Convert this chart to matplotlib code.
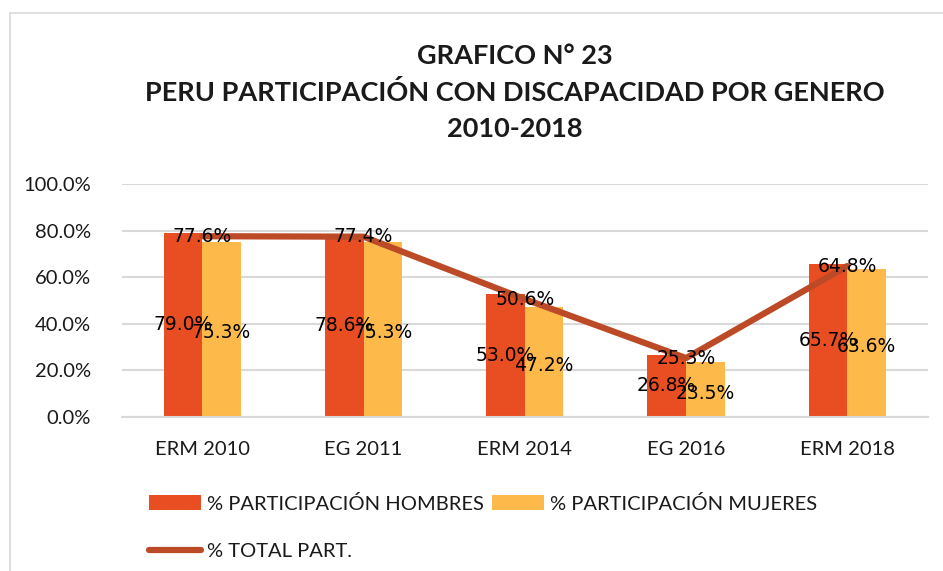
import matplotlib.pyplot as plt
import numpy as np
from matplotlib.lines import Line2D
from matplotlib.ticker import PercentFormatter

categories = ['ERM 2010', 'EG 2011', 'ERM 2014', 'EG 2016', 'ERM 2018']
hombres = [79.0, 78.6, 53.0, 26.8, 65.7]
mujeres = [75.3, 75.3, 47.2, 23.5, 63.6]
total = [77.6, 77.4, 50.6, 25.3, 64.8]

c_h = '#E84E22'
c_m = '#FDB949'
c_t = '#BD4A27'
txt = '#1a1a1a'
font = 'Lato'

fig = plt.figure(figsize=(9.43, 5.71), dpi=100)
ax = fig.add_axes([0.129, 0.2697, 0.855, 0.408])

x = np.arange(len(categories))
w = 0.24
b1 = ax.bar(x - w / 2, hombres, w, color=c_h, label='% PARTICIPACIÓN HOMBRES', zorder=2)
b2 = ax.bar(x + w / 2, mujeres, w, color=c_m, label='% PARTICIPACIÓN MUJERES', zorder=2)
ln, = ax.plot(x, total, color=c_t, lw=4.5, label='% TOTAL PART.', zorder=3, solid_capstyle='round')

# etiquetas de datos (se solapan igual que en el original)
for xi, v in zip(x, hombres):
    ax.text(xi - w / 2, v / 2, f'{v:.1f}%', ha='center', va='center', fontsize=13.5,
            family='DejaVu Sans', color='black', zorder=4)
for xi, v in zip(x, mujeres):
    ax.text(xi + w / 2, v / 2 - 1.5, f'{v:.1f}%', ha='center', va='center', fontsize=13.5,
            family='DejaVu Sans', color='black', zorder=4)
for xi, v in zip(x, total):
    ax.text(xi, v, f'{v:.1f}%', ha='center', va='center', fontsize=13.5,
            family='DejaVu Sans', color='black', zorder=4)

ax.set_xlim(-0.5, len(categories) - 0.5)
ax.set_ylim(0, 100)
ax.set_yticks(np.arange(0, 101, 20))
ax.yaxis.set_major_formatter(PercentFormatter(decimals=1))
ax.set_xticks(x)
ax.set_xticklabels(categories)
ax.grid(axis='y', color='#D9D9D9', lw=1.5, zorder=0)
for s in ['top', 'right', 'left']:
    ax.spines[s].set_visible(False)
ax.spines['bottom'].set_color('#D9D9D9')
ax.spines['bottom'].set_linewidth(1.5)
ax.tick_params(length=0, labelsize=14.5, labelcolor=txt)
ax.tick_params(axis='x', pad=17)
ax.tick_params(axis='y', pad=22)
for lab in ax.get_xticklabels() + ax.get_yticklabels():
    lab.set_family(font)

fig.text(0.546, 0.838, 'GRAFICO N° 23\nPERU PARTICIPACIÓN CON DISCAPACIDAD POR GENERO\n2010-2018',
         ha='center', va='center', fontsize=19.5, fontweight='bold', family=font,
         color=txt, linespacing=1.6)

leg = fig.legend([b1, ln, b2], [b1.get_label(), ln.get_label(), b2.get_label()],
                 ncol=2, loc='upper left', bbox_to_anchor=(0.149, 0.148), frameon=False,
                 prop={'family': font, 'size': 14.5}, handlelength=2.6, handleheight=0.8,
                 handletextpad=0.3, columnspacing=0.4, labelspacing=1.5, borderaxespad=0)
for t in leg.get_texts():
    t.set_color(txt)

fig.add_artist(Line2D([10 / 943, 10 / 943], [0, 1 - 13 / 571], color='#D9D9D9', lw=1.2))
fig.add_artist(Line2D([10 / 943, 1], [1 - 13 / 571, 1 - 13 / 571], color='#D9D9D9', lw=1.2))

fig.savefig('out.png', dpi=100)
